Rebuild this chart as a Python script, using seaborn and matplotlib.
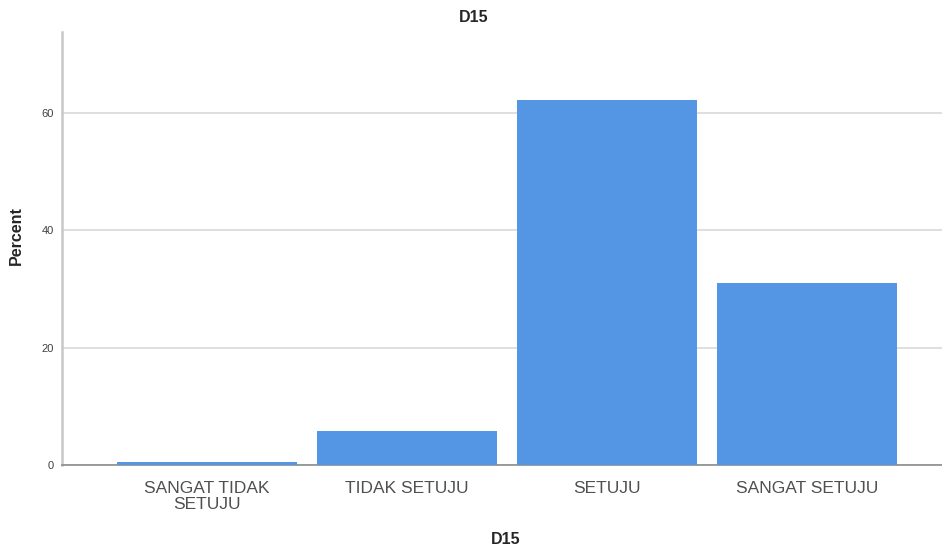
import pandas as pd
import matplotlib.pyplot as plt
import seaborn as sns

sns.set_style("white")
plt.rcParams["font.family"] = ["Liberation Sans", "DejaVu Sans"]

# --- Daten ---
kategorien = ["SANGAT TIDAK\nSETUJU", "TIDAK SETUJU", "SETUJU", "SANGAT SETUJU"]
prozent = [0.6, 5.8, 62.3, 31.1]
y_ticks = [0, 20, 40, 60]

df = pd.DataFrame({"D15": kategorien, "Percent": prozent})

fig = plt.figure(figsize=(9.42, 5.49), dpi=100)
ax = fig.add_axes([62 / 942, 0.1523, 1 - 62 / 942, 0.7894])

sns.barplot(data=df, x="D15", y="Percent", color="#5596e4", saturation=1,
            width=0.9, linewidth=0, ax=ax, zorder=3)

ax.set_xlim(-0.725, 3.675)
ax.set_ylim(0, 73.8)
ax.set_yticks(y_ticks)
ax.yaxis.grid(True, color="#d9d9d9", linewidth=1.2, zorder=0)
ax.set_axisbelow(True)

for s in ["top", "right"]:
    ax.spines[s].set_visible(False)
ax.spines["left"].set_color("#c8c8c8")
ax.spines["left"].set_linewidth(1.8)
ax.spines["bottom"].set_color("#8c8c8c")
ax.spines["bottom"].set_linewidth(1.2)

ax.tick_params(axis="both", length=0)
ax.tick_params(axis="x", labelsize=12.5, labelcolor="#505050", pad=11)
ax.tick_params(axis="y", labelsize=8, labelcolor="#404040", pad=6)
for lbl in ax.get_xticklabels():
    lbl.set_linespacing(1.1)

# Titel mittig über der ganzen Abbildung
fig.text(474 / 942, 1 - 17 / 549, "D15", fontsize=11.5, fontweight="bold",
         ha="center", va="center")
ax.set_xlabel("D15", fontsize=11.5, fontweight="bold", va="center")
ax.xaxis.set_label_coords(0.5045, -0.172)
ax.set_ylabel("Percent", fontsize=11.5, fontweight="bold", va="center")
ax.yaxis.set_label_coords(-0.052, 0.53)

plt.savefig("out.png", dpi=100)
plt.close()
